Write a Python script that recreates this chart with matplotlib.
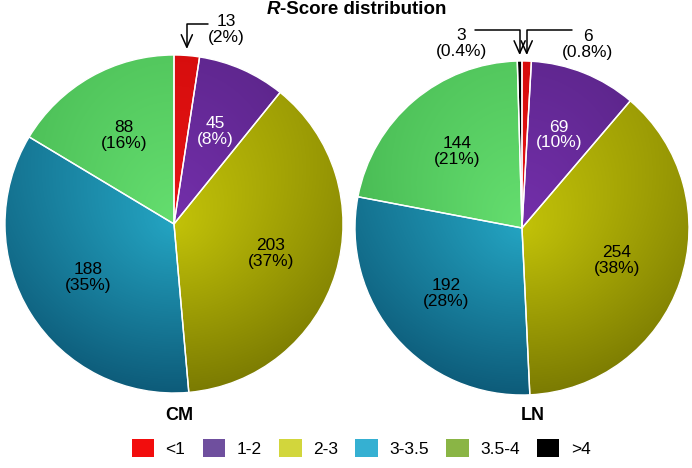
import numpy as np
import matplotlib.pyplot as plt
from matplotlib.patches import Patch

plt.rcParams['font.family'] = ['Liberation Sans', 'DejaVu Sans']

# data
categories = ['<1', '1-2', '2-3', '3-3.5', '3.5-4', '>4']
cm_counts = [13, 45, 203, 188, 88, 0]
ln_counts = [6, 69, 254, 192, 144, 3]
cm_pcts = ['2%', '8%', '37%', '35%', '16%', '']
ln_pcts = ['0.8%', '10%', '38%', '28%', '21%', '0.4%']

# slice shading: light (centre) -> dark (rim / bottom)
light = [(240, 25, 25), (128, 52, 188), (214, 214, 10), (42, 184, 214), (112, 236, 122), (0, 0, 0)]
dark = [(185, 0, 0), (58, 24, 92), (100, 100, 0), (6, 68, 98), (48, 156, 60), (0, 0, 0)]
legend_cols = ['#f20d0d', '#6f4f9e', '#d2d63c', '#35b0d2', '#8ab545', '#000000']
txt_cols = ['black', 'white', 'black', 'black', 'black', 'black']

W, H = 692, 468
FS = 12.5
fig = plt.figure(figsize=(W / 100, H / 100), dpi=100)


def px_axes(cx, cy, r):
    return fig.add_axes([(cx - r) / W, 1 - (cy + r) / H, 2 * r / W, 2 * r / H])


n = 400
g = np.linspace(-1, 1, n)
xx, yy = np.meshgrid(g, g)
rr = np.hypot(xx, yy)
tt = np.clip(0.45 * rr + 0.35 * (1 - yy) / 2, 0, 1)[..., None]


def draw_pie(ax, counts, pcts, callouts):
    idx = [i for i, c in enumerate(counts) if c > 0]
    vals = [counts[i] for i in idx]
    wedges, _ = ax.pie(vals, startangle=90, counterclock=False, radius=1,
                       wedgeprops=dict(edgecolor='white', linewidth=1.0))
    for w, i in zip(wedges, idx):
        lo = np.array(light[i]) / 255.0
        hi = np.array(dark[i]) / 255.0
        img = lo * (1 - tt) + hi * tt
        im = ax.imshow(img, extent=(-1, 1, -1, 1), origin='lower', zorder=0,
                       interpolation='bilinear')
        im.set_clip_path(w)
        w.set_facecolor('none')
        w.set_zorder(2)
        mid = np.deg2rad((w.theta1 + w.theta2) / 2)
        label = '%d\n(%s)' % (counts[i], pcts[i])
        if i in callouts:
            tx, ty, sx = callouts[i]
            ax.annotate('', xy=(np.cos(mid), 1.035), xytext=(sx, 1.185),
                        arrowprops=dict(arrowstyle='->,head_length=0.9,head_width=0.4',
                                        connectionstyle='angle,angleA=0,angleB=90,rad=0',
                                        color='black', lw=1.1, shrinkA=0, shrinkB=0),
                        annotation_clip=False)
            ax.text(tx, ty, label, ha='center', va='center', fontsize=FS,
                    linespacing=1.05, clip_on=False)
        else:
            ax.text(0.6 * np.cos(mid), 0.6 * np.sin(mid), label, ha='center', va='center',
                    fontsize=FS, color=txt_cols[i], linespacing=1.05, zorder=3)
    ax.set_xlim(-1, 1)
    ax.set_ylim(-1, 1)
    ax.set_aspect('auto')
    ax.axis('off')


ax1 = px_axes(174, 224, 169)
draw_pie(ax1, cm_counts, cm_pcts, {0: (0.31, 1.15, 0.2)})

ax2 = px_axes(522, 228, 167)
draw_pie(ax2, ln_counts, ln_pcts, {0: (0.395, 1.10, 0.30), 5: (-0.365, 1.105, -0.28)})

# title with italic R
t1 = fig.text(267 / W, 1 - 14 / H, 'R', fontsize=13.5, fontweight='bold', style='italic',
              ha='left', va='baseline')
ax1.annotate('-Score distribution', xy=(1, 0), xycoords=t1, fontsize=13.5, fontweight='bold',
             ha='left', va='bottom', annotation_clip=False)

fig.text(179 / W, 1 - 415 / H, 'CM', fontsize=13, fontweight='bold', ha='center', va='center')
fig.text(533 / W, 1 - 415 / H, 'LN', fontsize=13, fontweight='bold', ha='center', va='center')

handles = [Patch(facecolor=c, edgecolor='none') for c in legend_cols]
fig.legend(handles, categories, loc='center', bbox_to_anchor=(361 / W, 1 - 448 / H), ncol=6,
           frameon=False, fontsize=FS, handlelength=1.3, handleheight=1.3,
           handletextpad=0.65, columnspacing=1.0, borderaxespad=0)

fig.savefig('out.png', dpi=100)
